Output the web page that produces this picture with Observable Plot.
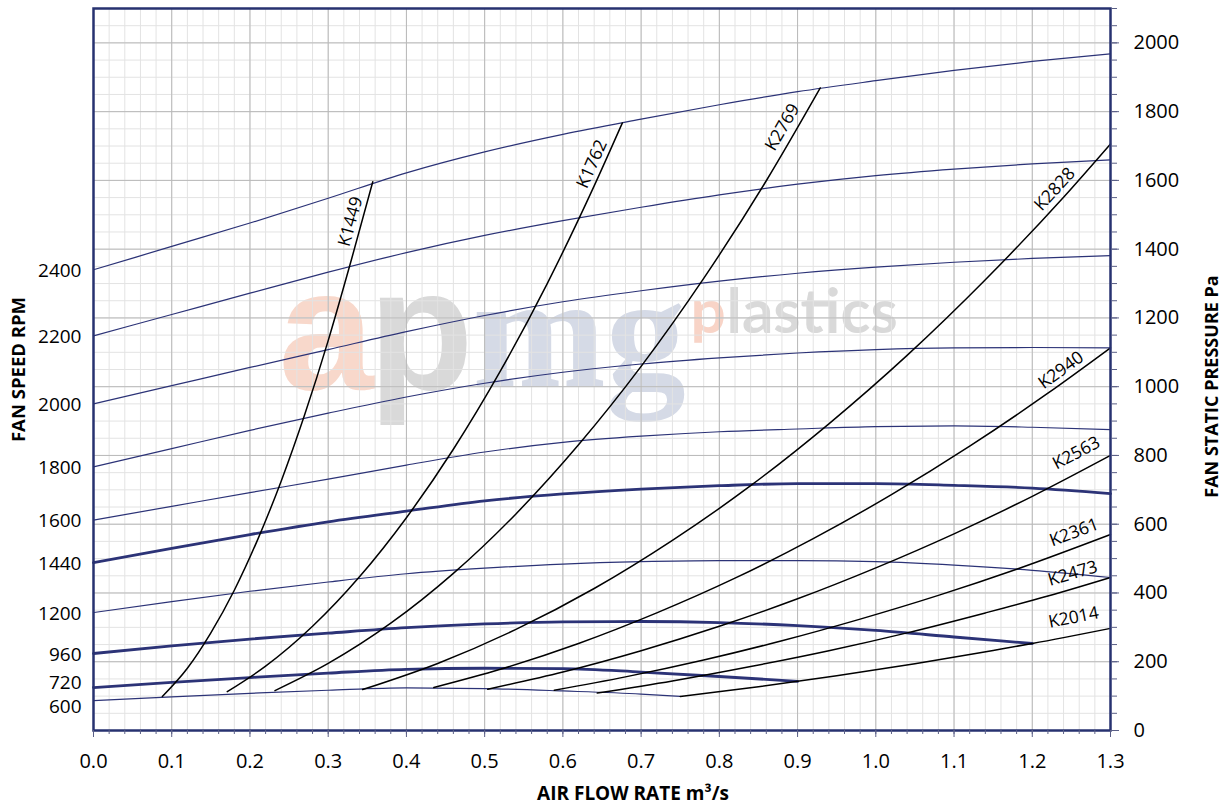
<!DOCTYPE html>
<html><head><meta charset="utf-8">
<script src="https://cdn.jsdelivr.net/npm/d3@7"></script>
<script src="https://cdn.jsdelivr.net/npm/@observablehq/plot@0.6"></script>
<style>
html,body{margin:0;padding:0;background:#fff;}
#chart{width:1227px;height:807px;}
</style></head><body><div id="chart"></div>
<script>
// ---------- data (air flow m³/s, static pressure Pa) ----------
const fanRpm = [2400, 2200, 2000, 1800, 1600, 1440, 1200, 960, 720, 600];
const heavyRpm = [1440, 960, 720];

const fan2400 = [[0,1340],[0.1,1408],[0.2,1476],[0.3,1548],[0.4,1622],[0.5,1683],[0.6,1734],[0.7,1778],[0.8,1820],[0.9,1858],[1.0,1890],[1.1,1920],[1.2,1946],[1.3,1968]];
const fan2200 = [[0,1148],[0.1,1210],[0.2,1272],[0.3,1333],[0.4,1390],[0.5,1440],[0.6,1483],[0.7,1522],[0.8,1558],[0.9,1589],[1.0,1614],[1.1,1633],[1.2,1648],[1.3,1660]];
const fan2000 = [[0,950],[0.1,1003],[0.2,1056],[0.3,1108],[0.4,1160],[0.5,1207],[0.6,1247],[0.7,1279],[0.8,1307],[0.9,1330],[1.0,1348],[1.1,1362],[1.2,1373],[1.3,1381]];
const fan1800 = [[0,767],[0.1,820],[0.2,873],[0.3,923],[0.4,970],[0.5,1010],[0.6,1042],[0.7,1066],[0.8,1084],[0.9,1098],[1.0,1108],[1.1,1113],[1.2,1114],[1.3,1113]];
const fan1600 = [[0,612],[0.1,652],[0.2,692],[0.3,731],[0.4,772],[0.5,810],[0.6,838],[0.7,856],[0.8,869],[0.9,877],[1.0,884],[1.1,886],[1.2,882],[1.3,875]];
const fan1440 = [[0,488],[0.1,530],[0.2,570],[0.3,607],[0.4,638],[0.5,668],[0.6,688],[0.7,702],[0.8,712],[0.9,718],[1.0,718],[1.1,713],[1.2,705],[1.3,689]];
const fan1200 = [[0,343],[0.1,375],[0.2,405],[0.3,432],[0.4,456],[0.5,472],[0.6,484],[0.7,491],[0.8,494],[0.9,494],[1.0,491],[1.1,481],[1.2,466],[1.3,445]];
const fan960  = [[0,224],[0.1,246],[0.2,266],[0.3,283],[0.4,299],[0.5,310],[0.6,316],[0.7,317],[0.8,314],[0.9,305],[1.0,291],[1.1,272],[1.2,253]];
const fan720  = [[0,125],[0.1,140],[0.2,154],[0.3,167],[0.4,178],[0.5,181],[0.6,180],[0.7,170],[0.8,157],[0.9,143]];
const fan600  = [[0,87],[0.1,98],[0.2,108],[0.3,117],[0.4,124],[0.5,122],[0.6,115],[0.7,106],[0.75,99]];
const fanSeries = [fan2400, fan2200, fan2000, fan1800, fan1600, fan1440, fan1200, fan960, fan720, fan600];

const systemNames = ["K1449","K1762","K2769","K2828","K2940","K2563","K2361","K2473","K2014"];
const sys1449 = [[0.088,99],[0.12,181],[0.15,284],[0.18,408],[0.21,556],[0.24,726],[0.27,919],[0.30,1134],[0.33,1372],[0.357,1596]];
const sys1762 = [[0.171,113],[0.22,187],[0.28,303],[0.34,447],[0.40,619],[0.46,818],[0.52,1045],[0.58,1300],[0.64,1584],[0.676,1767]];
const sys2769 = [[0.232,116],[0.30,195],[0.38,312],[0.46,457],[0.54,630],[0.62,831],[0.70,1059],[0.78,1315],[0.86,1599],[0.929,1869]];
const sys2828 = [[0.344,119],[0.44,195],[0.54,294],[0.64,413],[0.74,553],[0.84,712],[0.94,892],[1.04,1091],[1.14,1311],[1.24,1551],[1.30,1706]];
const sys2940 = [[0.435,125],[0.52,178],[0.62,253],[0.72,342],[0.82,443],[0.92,558],[1.02,686],[1.12,827],[1.22,981],[1.30,1113]];
const sys2563 = [[0.504,120],[0.60,170],[0.70,232],[0.80,303],[0.90,383],[1.00,473],[1.10,572],[1.20,681],[1.30,800]];
const sys2361 = [[0.589,117],[0.68,156],[0.78,205],[0.88,261],[0.98,324],[1.08,393],[1.18,469],[1.30,570]];
const sys2473 = [[0.644,109],[0.74,144],[0.84,186],[0.94,232],[1.04,284],[1.14,342],[1.22,391],[1.30,445]];
const sys2014 = [[0.75,99],[0.85,127],[0.95,159],[1.05,194],[1.15,233],[1.20,253],[1.30,297]];
const systemSeries = [sys1449, sys1762, sys2769, sys2828, sys2940, sys2563, sys2361, sys2473, sys2014];

const xTicks = [0,0.1,0.2,0.3,0.4,0.5,0.6,0.7,0.8,0.9,1.0,1.1,1.2,1.3];
const paTicks = [0,200,400,600,800,1000,1200,1400,1600,1800,2000];

// ---------- layout ----------
const W = 1227, H = 807, mT = 8, mR = 117, mB = 77, mL = 93;
const navy = "#2c3377";
const frameNavy = "#273270";
const font = "'Open Sans', Lato, sans-serif";
const labelAt  = [0.342, 0.65, 0.895, 1.24, 1.245, 1.267, 1.26, 1.257, 1.257];
const labelGap = [11, 11, 13, 12, 11, 18, 14.7, 14.7, 17.7];
const rpmNudge = [1, 1, 1, 1, 1, 1, 1, 1, -5, 6]; // pixel shift of the RPM labels

const xMinor = d3.range(0, 66).map(i => i / 50);
const yMinor = d3.range(0, 43).map(i => i * 50);

// pixel mapping that mirrors the plot's scales (used only to place/orient labels)
const xs = d3.scaleLinear([0, 1.3], [mL, W - mR]);
const ys = d3.scaleLinear([0, 2100], [H - mB, mT]);

const fanRows = fanSeries.flatMap((pts, i) => pts.map(([q, p]) => ({rpm: fanRpm[i], q, p, heavy: heavyRpm.includes(fanRpm[i])})));
const sysRows = systemSeries.flatMap((pts, i) => pts.map(([q, p]) => ({name: systemNames[i], q, p})));
const rpmLabels = fanSeries.map((pts, i) => ({rpm: fanRpm[i], q: pts[0][0], p: ys.invert(ys(pts[0][1]) + rpmNudge[i])}));

function interp(pts, q) {
  for (let i = 1; i < pts.length; i++) {
    if (q <= pts[i][0]) {
      const [q0, p0] = pts[i - 1], [q1, p1] = pts[i];
      return p0 + (p1 - p0) * (q - q0) / (q1 - q0);
    }
  }
  return pts[pts.length - 1][1];
}
const sysLabels = systemSeries.map((pts, i) => {
  const q = labelAt[i];
  const a = [xs(q - 0.01), ys(interp(pts, q - 0.01))];
  const b = [xs(Math.min(q + 0.01, 1.3)), ys(interp(pts, Math.min(q + 0.01, 1.3)))];
  const th = Math.atan2(a[1] - b[1], b[0] - a[0]);
  const cx = xs(q) - labelGap[i] * Math.sin(th);
  const cy = ys(interp(pts, q)) - labelGap[i] * Math.cos(th);
  return {name: systemNames[i], q: xs.invert(cx), p: ys.invert(cy), rot: -th * 180 / Math.PI};
});

const sansBold = "'Liberation Sans', Arial, sans-serif";
const wm = (txt, dx, dy, size, family, fill) =>
  Plot.text([txt], {frameAnchor: "top-left", dx, dy, textAnchor: "start", lineAnchor: "bottom", fontSize: size, fontWeight: "bold", fontFamily: family, fill});

const chart = Plot.plot({
  width: W, height: H,
  marginTop: mT, marginRight: mR, marginBottom: mB, marginLeft: mL,
  style: {fontFamily: font, background: "#fff", color: "#000", overflow: "visible"},
  x: {domain: [0, 1.3]},
  y: {domain: [0, 2100]},
  marks: [
    // watermark
    wm("a", 185, 380, 172, sansBold, "#f8d8cb"),
    wm("p", 275, 380, 172, sansBold, "#d9d9d9"),
    wm("mg", 379, 377, 160, "'Liberation Serif', serif", "#d5dae6"),
    wm("p", 597, 324, 62, "Lato, sans-serif", "#f8d4c7"),
    wm("lastics", 633, 324, 62, "Lato, sans-serif", "#d9d9d9"),
    // grid
    Plot.gridX({ticks: xMinor, stroke: "#e3e3e3", strokeOpacity: 1}),
    Plot.gridY({ticks: yMinor, stroke: "#e3e3e3", strokeOpacity: 1}),
    Plot.gridX({ticks: xTicks, stroke: "#b9b9b9", strokeOpacity: 1}),
    Plot.gridY({ticks: paTicks, stroke: "#b9b9b9", strokeOpacity: 1}),
    // fan curves
    Plot.line(fanRows.filter(d => !d.heavy), {x: "q", y: "p", z: "rpm", stroke: navy, strokeWidth: 1.2, curve: "monotone-x"}),
    Plot.line(fanRows.filter(d => d.heavy), {x: "q", y: "p", z: "rpm", stroke: navy, strokeWidth: 2.8, curve: "monotone-x"}),
    // system curves
    Plot.line(sysRows, {x: "q", y: "p", z: "name", stroke: "#000", strokeWidth: 1.5, curve: "monotone-x"}),
    Plot.text(sysLabels, {x: "q", y: "p", text: "name", rotate: "rot", fontSize: 17.5, fill: "#000", textAnchor: "middle", lineAnchor: "middle"}),
    // frame
    Plot.frame({stroke: frameNavy, strokeWidth: 2.5}),
    // axes
    Plot.axisX({ticks: xMinor, tickSize: 4, text: null, stroke: "#5a5f86", label: null}),
    Plot.axisX({ticks: xTicks, tickSize: 7, tickPadding: 16, tickFormat: ".1f", fontSize: 20, stroke: "#5a5f86", label: null}),
    Plot.axisY({anchor: "right", ticks: yMinor, tickSize: 6, text: null, stroke: "#5a5f86", label: null}),
    Plot.axisY({anchor: "right", ticks: paTicks, tickSize: 8, tickPadding: 15, tickFormat: "d", fontSize: 20, stroke: "#5a5f86", label: null}),
    Plot.text(rpmLabels, {x: "q", y: "p", text: d => String(d.rpm), textAnchor: "end", dx: -12, fontSize: 19, fill: "#000"}),
    // axis titles
    Plot.text(["FAN SPEED RPM"], {frameAnchor: "left", dx: -74, dy: 0, rotate: -90, textAnchor: "middle", lineAnchor: "middle", fontSize: 18.5, fontWeight: "bold", fill: "#000"}),
    Plot.text(["FAN STATIC PRESSURE Pa"], {frameAnchor: "right", dx: 102, dy: 17, rotate: -90, textAnchor: "middle", lineAnchor: "middle", fontSize: 18, fontWeight: "bold", fill: "#000"}),
    Plot.text(["AIR FLOW RATE m³/s"], {frameAnchor: "bottom", dx: 31, dy: 63, textAnchor: "middle", lineAnchor: "middle", fontSize: 19, fontWeight: "bold", fill: "#000"})
  ]
});
document.getElementById("chart").append(chart);
</script>
</body></html>
